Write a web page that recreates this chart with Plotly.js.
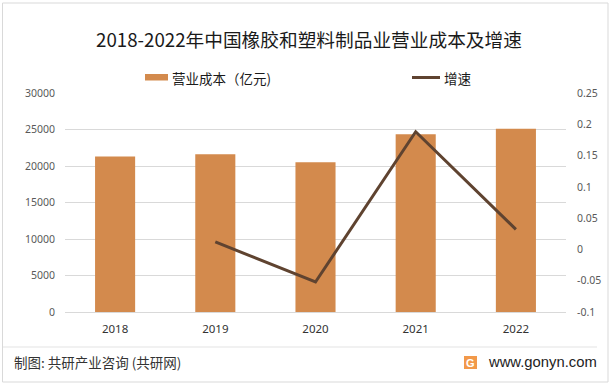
<!DOCTYPE html>
<html>
<head>
<meta charset="utf-8">
<script src="https://cdn.plot.ly/plotly-3.0.1.min.js"></script>
<style>
html,body{margin:0;padding:0;background:#fff;}
#chart{width:611px;height:385px;}
</style>
</head>
<body>
<div id="chart"></div>
<script>
// ---- data ----
const years = ["2018", "2019", "2020", "2021", "2022"];
const costValues = [21300, 21600, 20500, 24350, 25100];
const growthYears = ["2019", "2020", "2021", "2022"];
const growthValues = [0.012, -0.052, 0.188, 0.032];
const leftTickVals = [0, 5000, 10000, 15000, 20000, 25000, 30000];
const leftTickText = ["0", "5000", "10000", "15000", "20000", "25000", "30000"];
const rightTickVals = [-0.1, -0.05, 0, 0.05, 0.1, 0.15, 0.2, 0.25];
const rightTickText = ["-0.1", "-0.05", "0", "0.05", "0.1", "0.15", "0.2", "0.25"];
const titleText = "2018-2022年中国橡胶和塑料制品业营业成本及增速";
const seriesNames = ["营业成本（亿元)", "增速"];
const sourceText = "制图: 共研产业咨询 (共研网)";
const siteText = "www.gonyn.com";

// ---- layout helpers ----
const W = 611, H = 385;
const M = {l: 65, r: 45, t: 93, b: 73};
const PW = W - M.l - M.r, PH = H - M.t - M.b;
const px = x => (x - M.l) / PW;
const py = y => (H - M.b - y) / PH;

const CJK = "Noto Sans CJK SC, Noto Sans, sans-serif";
const NUM = "Noto Sans, Noto Sans CJK SC, sans-serif";
const barColor = "#D38A4D";
const lineColor = "#5F4330";

const traces = [
  {
    type: "bar", x: years, y: costValues, name: seriesNames[0],
    marker: {color: barColor}, showlegend: false, hoverinfo: "skip"
  },
  {
    type: "scatter", mode: "lines", x: growthYears, y: growthValues, name: seriesNames[1],
    yaxis: "y2", line: {color: lineColor, width: 3}, showlegend: false, hoverinfo: "skip"
  }
];

const layout = {
  width: W, height: H,
  margin: M,
  paper_bgcolor: "#fff", plot_bgcolor: "#fff",
  bargap: 0.6,
  showlegend: false,
  title: {
    text: titleText,
    font: {family: CJK, size: 18.7, color: "#1a1a1a"},
    x: 309 / W, xref: "container", xanchor: "center",
    y: 1 - 40 / H, yref: "container", yanchor: "middle"
  },
  xaxis: {
    type: "category", showgrid: false, zeroline: false, showline: false,
    ticks: "", ticklabelstandoff: 8,
    tickfont: {family: NUM, size: 11.5, color: "#333"}
  },
  yaxis: {
    range: [0, 30000], tickvals: leftTickVals, ticktext: leftTickText,
    showgrid: true, gridcolor: "#d9d9d9", gridwidth: 1,
    zeroline: true, zerolinecolor: "#d9d9d9", zerolinewidth: 1,
    ticks: "", ticklabelstandoff: 9, fixedrange: true,
    tickfont: {family: NUM, size: 10.5, color: "#595959"}
  },
  yaxis2: {
    overlaying: "y", side: "right", range: [-0.1, 0.25],
    tickvals: rightTickVals, ticktext: rightTickText,
    showgrid: false, zeroline: false, ticks: "", ticklabelstandoff: 10,
    tickfont: {family: NUM, size: 10.5, color: "#595959"}
  },
  shapes: [
    // outer border
    {type: "rect", xref: "paper", yref: "paper", x0: px(2.5), x1: px(608), y0: py(382), y1: py(3),
     line: {color: "#d9d9d9", width: 1}, fillcolor: "rgba(0,0,0,0)", layer: "below"},
    // footer separator
    {type: "line", xref: "paper", yref: "paper", x0: px(3), x1: px(597), y0: py(347), y1: py(347),
     line: {color: "#e3e3e3", width: 1}},
    // legend swatches
    {type: "rect", xref: "paper", yref: "paper", x0: px(145), x1: px(168), y0: py(80.5), y1: py(74),
     line: {width: 0}, fillcolor: barColor},
    {type: "line", xref: "paper", yref: "paper", x0: px(412), x1: px(440), y0: py(77.5), y1: py(77.5),
     line: {color: lineColor, width: 3}},
    // logo
    {type: "rect", xref: "paper", yref: "paper", x0: px(464), x1: px(477), y0: py(369), y1: py(356),
     line: {width: 0}, fillcolor: "#F2994A"}
  ],
  annotations: [
    {text: seriesNames[0], xref: "paper", yref: "paper", x: px(170), y: py(77.5),
     xanchor: "left", yanchor: "middle", showarrow: false,
     font: {family: CJK, size: 13.5, color: "#1a1a1a"}},
    {text: seriesNames[1], xref: "paper", yref: "paper", x: px(442), y: py(77.5),
     xanchor: "left", yanchor: "middle", showarrow: false,
     font: {family: CJK, size: 13.5, color: "#1a1a1a"}},
    {text: sourceText, xref: "paper", yref: "paper", x: px(12), y: py(362),
     xanchor: "left", yanchor: "middle", showarrow: false,
     font: {family: CJK, size: 13.5, color: "#333"}},
    {text: siteText, xref: "paper", yref: "paper", x: px(486), y: py(361.5),
     xanchor: "left", yanchor: "middle", showarrow: false,
     font: {family: "Liberation Sans, Arial, sans-serif", size: 14.8, color: "#222"}},
    {text: "<b>G</b>", xref: "paper", yref: "paper", x: px(470.5), y: py(362.5),
     xanchor: "center", yanchor: "middle", showarrow: false,
     font: {family: "Liberation Sans, Arial, sans-serif", size: 11, color: "#fff"}}
  ]
};

Plotly.newPlot("chart", traces, layout, {staticPlot: true, displayModeBar: false});
</script>
</body>
</html>
